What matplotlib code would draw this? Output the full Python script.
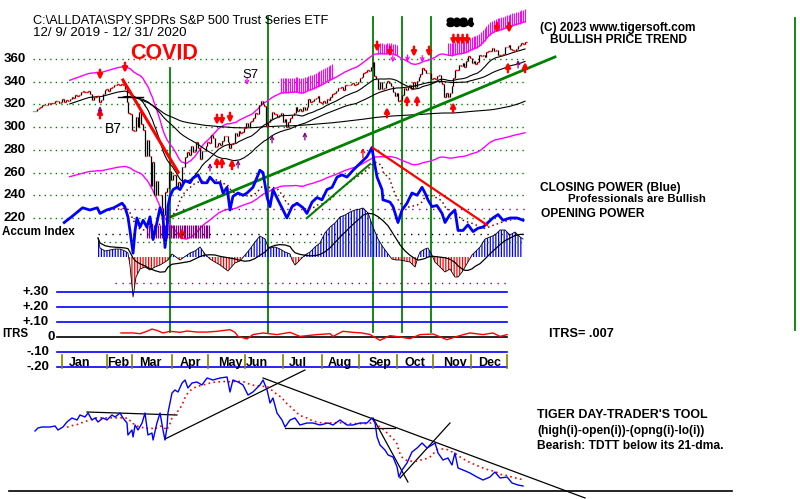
import numpy as np
import pandas as pd
import matplotlib
matplotlib.use("Agg")
import matplotlib.pyplot as plt
import matplotlib.patheffects as pe

plt.rcParams['font.family'] = ['Liberation Sans', 'DejaVu Sans']
plt.rcParams['hatch.linewidth'] = 0.9

# ---------------- DATA ----------------
# SPY daily closes 12/9/2019 .. 12/31/2020 (trading-day index 0..268)
closes = [
    313.9, 314.6, 316.2, 317.1, 317.3, 319.5, 319.6, 319.4, 320.9, 320.7, 321.2, 321.2, 322.9, 322.9, 321.1, 321.9,
    324.9, 322.4, 323.6, 322.7, 324.4, 326.6, 325.7, 327.9, 327.5, 328.2, 331.3, 332.0, 331.3, 331.3, 331.7, 328.8,
    323.5, 326.9, 326.6, 327.7, 321.7,
    324.1, 329.1, 332.9, 334.0, 332.2, 334.7, 335.3, 337.4, 337.1, 337.6, 336.7, 338.3, 337.0, 333.5, 322.4, 312.7,
    311.5, 297.5, 296.3,
    309.1, 300.2, 313.0, 302.5, 297.5, 274.2, 288.4, 274.4, 248.1, 269.3, 239.9, 252.8, 240.0, 240.5, 228.8, 223.0,
    243.2, 246.8, 261.2, 253.4, 257.8, 257.8,
    246.2, 251.8, 248.2, 264.9, 265.1, 274.0, 278.2, 275.7, 283.8, 277.8, 279.1, 286.6, 281.6, 272.0, 279.1, 279.1,
    283.0, 287.1, 285.7, 293.2, 290.5,
    282.8, 283.6, 286.2, 284.3, 287.7, 292.4, 292.5, 286.7, 281.6, 285.0, 286.3, 295.0, 292.0, 296.9, 294.9, 295.4,
    299.1, 303.5, 300.5, 304.3,
    305.6, 308.1, 312.2, 311.4, 319.3, 323.2, 320.8, 319.0, 300.6, 304.2, 307.1, 313.0, 311.7, 311.8, 308.6, 310.6,
    312.1, 304.1, 307.4, 300.1, 304.5, 308.4,
    310.5, 312.2, 317.6, 314.4, 316.2, 314.4, 317.6, 314.8, 317.7, 324.4, 321.7, 322.6, 325.0, 325.3, 327.0, 322.5,
    320.9, 323.2, 321.2, 325.1, 324.0, 326.5,
    328.8, 330.1, 332.1, 334.3, 334.6, 335.6, 332.8, 337.4, 336.8, 336.8, 337.9, 338.6, 337.2, 338.3, 339.5, 343.4,
    344.4, 347.6, 348.3, 350.6, 349.3,
    352.6, 357.7, 345.4, 342.6, 333.2, 339.8, 333.9, 334.1, 338.5, 340.2, 338.8, 335.8, 330.7, 327.0, 330.3, 322.6,
    323.5, 328.7, 334.2, 332.4, 334.9,
    337.0, 333.8, 339.8, 334.9, 340.8, 343.8, 346.9, 352.4, 350.1, 347.9, 347.5, 347.3, 342.0, 343.4, 342.7, 344.6,
    345.8, 339.4, 338.2, 326.7, 330.0, 326.5,
    330.2, 336.0, 343.5, 350.2, 350.2, 354.6, 354.0, 356.7, 353.2, 358.1, 362.6, 360.6, 356.3, 357.8, 355.3, 357.5,
    363.2, 362.7, 363.7, 362.1,
    366.0, 366.8, 366.7, 369.9, 366.9, 368.0, 363.2, 363.7, 363.3, 364.7, 370.2, 370.6, 372.2, 369.2, 367.9, 367.2,
    369.0, 371.5, 372.0, 373.9, 373.1, 375.3,
]

# Closing Power (blue), in price-panel units
cp_day = [17, 21, 27, 31, 35, 36.5, 40, 44, 48.5, 50, 51.7, 52.8, 54.5, 55.6, 56.6, 58.3, 60, 62, 63.7, 64.8, 65.4,
          67.5, 69.2, 70.8, 71.9, 73, 73.5, 74.6, 76.3, 78.4, 80.1, 82.8, 85.5, 87.1, 89.9, 92, 94.8, 96.4, 99.1,
          101.9, 103.5, 105.7, 107.3, 108.9, 111.7, 114.4, 116.6, 119.8, 123.6, 125.3, 127.5, 129.1, 130.7, 133.4,
          136.2, 138.3, 141.1, 143.8, 147.1, 149.2, 152, 154.7, 157.4, 160.1, 162.9, 165.6, 168.3, 171, 174.3, 178.1,
          181.9, 184.6, 185.7, 187.4, 190.1, 190.6, 194.4, 196.1, 198.8, 201, 203.7, 206.4, 209.2, 211.9, 213.5,
          215.1, 217.3, 220, 222.8, 224.4, 227.1, 229.8, 231.5, 234.2, 236.9, 239.7, 242.4, 245.1, 247.8, 250.5,
          253.3, 256, 259.8, 263.6, 266.9]
cp_val = [216, 221, 229, 227, 229, 224, 227, 229, 233, 230, 221, 209, 189, 209, 220, 212, 218, 212, 221, 209, 201,
          216, 229, 221, 194, 209, 230, 239, 245, 247, 245, 253, 251, 255, 258, 251, 251, 256, 251,
          251, 242, 247, 227, 239, 242, 240, 242, 247, 262, 260, 238, 230, 245, 236,
          227, 220, 230, 233, 229, 224, 234, 238, 236, 245, 247, 256, 258, 256, 262, 268,
          274, 282, 271, 256, 245, 236, 234, 230, 216, 227, 233, 242, 240, 247, 242,
          236, 230, 231, 224, 216, 223, 227, 209, 209, 214, 208, 211, 212, 216, 220,
          223, 218, 220, 220, 218]

# Accumulation Index (IP21-style)
acc_day = [35.4, 36.5, 39.2, 41.9, 44.7, 47.4, 50.1, 51.7, 52.8, 54.5, 56.1, 58.3, 61.0, 63.7, 66.4, 69.2, 71.9,
           73.5, 75.7, 80.1, 85.5, 88.2, 91.0, 93.7, 96.4, 99.1, 101.9, 106.2, 110.0, 112.7, 115.5, 118.2, 120.9,
           123.6, 126.4, 128.0, 129.1, 131.8, 134.5, 137.3, 140.0, 141.1, 142.7, 145.4, 148.1, 150.9, 153.6, 156.3,
           159.0, 161.8, 164.5, 167.2, 170.0, 172.7, 175.4, 178.1, 179.7, 182.5, 185.2, 187.9, 190.6, 193.4, 195.5,
           197.7, 199.9, 202.6, 205.3, 208.1, 209.7, 210.8, 213.5, 215.1, 217.3, 218.9, 221.7, 224.4, 227.1, 229.8,
           231.5, 233.7, 235.3, 236.9, 239.1, 240.8, 243.5, 246.2, 248.9, 251.6, 254.4, 257.1, 259.8, 262.5, 265.3,
           266.9]
acc_val = [0.19, 0.09, 0.06, 0.07, 0.08, 0.08, 0.06, 0.04, -0.08, -0.40, -0.20, -0.12, -0.10, -0.13, -0.10, -0.08,
           -0.05, -0.03, 0.03, -0.03, 0.04, 0.06, 0.10, 0.03, -0.02, -0.05, -0.08, -0.14, -0.06, -0.04, 0.02, 0.08,
           0.15, 0.21, 0.18, 0.10, 0.09, 0.10, 0.08, 0.05, 0.03, -0.03, -0.08, -0.03, 0.02, 0.05, 0.10, 0.14,
           0.24, 0.30, 0.34, 0.40, 0.42, 0.45, 0.47, 0.48, 0.49, 0.44, 0.30, 0.18, 0.10, 0.03, -0.02,
           -0.03, -0.03, -0.04, -0.05, -0.10, 0.0, 0.05, 0.08, 0.09, 0.02, -0.05, -0.10, -0.15, -0.12, -0.20,
           -0.20, -0.15, -0.10, -0.05, 0.02, 0.05, 0.10, 0.18, 0.20, 0.22, 0.27, 0.27, 0.22, 0.25, 0.20,
           0.18]

# ITRS
itrs_day = [47.9, 54.5, 58.3, 62.1, 64.8, 67.5, 70.8, 74.6, 80.1, 83.9, 89.3, 94.8, 100.2, 107.3, 110.0, 111.7,
            116.6, 119.8, 125.3, 132.9, 140.0, 145.4, 154.7, 161.8, 163.4, 168.8, 174.3, 179.2, 183.6, 189.0, 194.4,
            199.9, 205.3, 210.8, 217.9, 225.5, 230.9, 238.0, 245.1, 250.5, 254.4, 258.2]
itrs_val = [0.027, 0.027, 0.022, 0.038, 0.053, 0.044, 0.027, 0.038, 0.031, 0.040, 0.033, 0.033, 0.038, 0.049,
            0.031, 0.004, -0.013, 0.016, 0.027, 0.016, 0.031, 0.004, 0.016, 0.022, 0.004, 0.038, 0.031, 0.027,
            0.016, -0.022, 0.009, 0.0, -0.011, 0.016, 0.020, -0.018, 0.004, 0.027, 0.016, 0.027, 0.004, 0.016]

# Tiger Day-Trader's Tool
tdtt_day = [1.1, 2.7, 4.9, 9.3, 12.0, 13.6, 16.3, 18.5, 21.2, 24.0, 25.6, 28.3, 30.0, 32.1, 33.8, 35.4, 38.1, 40.3,
            43.0, 44.7, 47.4, 49.0, 51.2, 51.7, 53.9, 54.5, 55.6, 57.2, 59.4, 61.0, 62.6, 64.8, 65.4, 67.5, 69.2,
            70.8, 71.9, 73.0, 73.5, 74.6, 75.7, 77.3, 79.0, 81.2, 82.8, 84.4, 86.6, 89.3, 92.0, 94.8, 98.0, 101.9,
            105.7, 107.3, 108.9, 111.7, 114.4, 117.1, 119.8, 123.6, 125.3, 127.5, 129.1, 130.7, 132.9, 135.6, 137.3,
            140.0, 142.7, 145.4, 149.2, 152.5, 156.3, 160.7, 163.4, 167.2, 171.0, 174.3, 178.1, 181.9, 184.6, 186.3,
            187.4, 189.0, 191.7, 193.4, 196.1, 198.3, 199.3, 201.0, 203.7, 206.4, 209.2, 211.9, 214.6, 217.3, 219.0,
            220.6, 223.3, 226.0, 228.2, 229.8, 231.5, 234.2, 238.0, 241.8, 245.1, 248.9, 251.6, 254.4, 258.2, 260.9,
            264.2, 266.9]
tdtt_val = [0.60, 0.63, 0.64, 0.64, 0.65, 0.61, 0.64, 0.69, 0.73, 0.71, 0.76, 0.74, 0.78, 0.71, 0.73, 0.69, 0.73,
            0.71, 0.76, 0.74, 0.78, 0.73, 0.68, 0.56, 0.61, 0.54, 0.66, 0.61, 0.68, 0.78, 0.56, 0.58, 0.51, 0.68,
            0.78, 0.61, 0.51, 0.64, 0.78, 0.88, 0.98, 1.01, 0.99, 1.08, 1.11, 1.03, 1.08, 1.09, 1.06, 1.13, 1.11,
            1.13, 1.14, 0.99, 1.11, 1.09, 1.06, 0.96, 0.99, 1.06, 1.11, 1.01, 0.88, 0.93, 0.78, 0.71, 0.64, 0.71,
            0.73, 0.66, 0.68, 0.68, 0.66, 0.68, 0.66, 0.71, 0.66, 0.66, 0.68, 0.68, 0.73, 0.68, 0.54, 0.46, 0.41,
            0.36, 0.34, 0.24, 0.14, 0.21, 0.28, 0.39, 0.43, 0.48, 0.43, 0.46, 0.48, 0.38, 0.31, 0.33, 0.26, 0.38,
            0.23, 0.21, 0.18, 0.14, 0.11, 0.14, 0.19, 0.13, 0.14, 0.08, 0.06, 0.05]

price_ticks = [360, 340, 320, 300, 280, 260, 240, 220]
itrs_ticks = [0.30, 0.20, 0.10, 0.0, -0.10, -0.20]
itrs_tick_labels = ['+.30', '+.20', '+.10', '0', '-.10', '-.20']
months = ['Jan', 'Feb', 'Mar', 'Apr', 'May', 'Jun', 'Jul', 'Aug', 'Sep', 'Oct', 'Nov', 'Dec']
month_label_day = [25.6, 46.3, 63.7, 85.5, 107.3, 122.0, 144.3, 167.2, 189.0, 208.1, 229.8, 248.9]
month_sep_day = [15.8, 40.3, 53.9, 75.7, 95.3, 115.5, 136.2, 157.4, 177.6, 198.3, 217.9, 238.6, 258.2]
signal_days = [74.6, 128.0, 185.2, 201.0, 216.8]

# trend lines (day, value) pairs
price_red_trend = [(49.0, 341.5), (79.0, 260.5)]
long_green_trend = [(73.5, 220.0), (284.3, 361.8)]
cp_green_trend = [(149.2, 220.0), (183.6, 267.5)]
cp_red_trend = [(185.2, 281.6), (247.3, 213.8)]
tdtt_lines = [[(29.4, 0.79), (78.4, 0.76)], [(71.9, 0.52), (148.1, 1.21)], [(125.3, 1.13), (300.7, -0.07)],
              [(137.3, 0.63), (197.2, 0.63)], [(185.2, 0.73), (204.2, 0.09)], [(199.9, 0.13), (227.1, 0.68)]]

# signal arrows (day, tip value)
down_red = [(36.5, 341.5), (50.1, 347.7), (100.2, 301.9), (102.9, 301.9), (107.3, 303.6), (187.4, 366.2),
            (194.4, 361.8), (207.5, 361.8), (215.7, 361.8), (252.7, 382.9), (259.3, 382.9),
            (229.0, 372.3), (231.5, 372.3), (234.0, 372.3), (236.5, 372.3)]
up_red = [(36.5, 316.8), (100.2, 273.7), (102.9, 273.7), (108.4, 272.0), (81.1, 211.2), (192.8, 317.7),
          (203.7, 328.3), (209.2, 328.3), (228.8, 322.1), (258.7, 357.4), (268.0, 357.4)]
up_purple = [(130.2, 293.1), (148.1, 295.7), (96.4, 268.4), (111.7, 271.0), (264.2, 359.1), (36.5, 318.5)]
down_magenta = [(116.6, 337.1), (196.0, 357.0), (204.0, 357.5), (212.0, 357.0)]
magenta_clusters = [(135, 163, 13.0), (188, 198, 9.0), (226, 268, 11.0)]

# ---------------- FIGURE ----------------
W, H = 800, 499
X0PX, PXD = 33.0, 1.836
XL = (-X0PX / PXD, (W - X0PX) / PXD)
fig = plt.figure(figsize=(W / 100, H / 100), dpi=100)
fig.patch.set_facecolor('white')


def full_axes(top_val, per_px):
    ax = fig.add_axes([0, 0, 1, 1])
    ax.set_xlim(*XL)
    ax.set_ylim(top_val - per_px * H, top_val)
    ax.set_axis_off()
    return ax


def dx(px):
    return (px - X0PX) / PXD


ax_p = full_axes(411.95, 0.8806)     # price panel units
ax_a = full_axes(2.57, 0.01)         # accumulation index
ax_i = full_axes(337 / 150, 1 / 150)  # ITRS
ax_t = full_axes(4.91, 0.01)         # TDTT

GREEN, BLUE, RED, MAG, PURP, BROWN, OLIVE = '#008000', '#0000ff', '#ff0000', '#ff00ff', '#800080', '#800000', '#808000'

days = np.arange(len(closes))
cl = pd.Series(closes, dtype=float)
ma21 = cl.rolling(21).mean()
ma50 = cl.rolling(50).mean()
ma200 = cl.rolling(200, min_periods=60).mean()
upper = ma21 * 1.065
lower = ma21 * 0.80

# grid lines
for v in price_ticks:
    ax_p.plot([0, 268], [v, v], color=GREEN, lw=1, ls=(0, (1, 3)))
# accum reference lines
ax_a.plot([dx(120), dx(525)], [0.48, 0.48], color=PURP, lw=1, ls=(0, (1, 4)))
ax_a.plot([dx(98), dx(525)], [0.23, 0.23], color='black', lw=1, ls=(0, (1, 4)))
ax_a.plot([dx(98), dx(525)], [0.15, 0.15], color=GREEN, lw=1, ls=(0, (1, 3)))
ax_a.plot([dx(115), dx(508)], [-0.26, -0.26], color=PURP, lw=1, ls=(0, (1, 4)))

# vertical signal lines
for i, d in enumerate(signal_days):
    ax_p.plot([d, d], [352.1 if i == 0 else 397.0, 119.6], color=GREEN, lw=1.3)
ax_p.plot([dx(795), dx(795)], [396.1, 121.3], color=GREEN, lw=1.3)

# bands and MAs
ax_p.plot(days, upper, color=MAG, lw=1)
ax_p.plot(days, lower, color=MAG, lw=1)
for m in (ma21, ma50, ma200):
    ax_p.plot(days, m, color='black', lw=0.8)

# magenta signal clusters above upper band
n = len(closes)
for d0, d1, h in magenta_clusters:
    dd = np.arange(d0, min(d1, n - 1) + 1, 1)
    ub = upper.to_numpy()[dd]
    ax_p.vlines(dd, ub, ub + h, color=MAG, lw=0.8)

# price bars
cla = np.array(closes)
ax_p.vlines(days[1:], np.minimum(cla[:-1], cla[1:]), np.maximum(cla[:-1], cla[1:]), color='black', lw=0.9)
ax_p.hlines(cla, days, days + 0.8, color=RED, lw=1.0)

# trend lines
(x0, y0), (x1, y1) = price_red_trend
ax_p.plot([x0, x1], [y0, y1], color=RED, lw=2.2)
(x0, y0), (x1, y1) = long_green_trend
ax_p.plot([x0, x1], [y0, y1], color=GREEN, lw=2.0)

# purple crash hatch
dd = np.arange(62, 97, 1)
ax_p.vlines(dd, 202, 214, color=PURP, lw=0.9)

# closing power
cps = pd.Series(cp_val, dtype=float)
ax_p.plot(cp_day, cps.rolling(6).mean(), color=BROWN, lw=1.1, ls=(0, (1, 2)))
ax_p.plot(cp_day, cp_val, color=BLUE, lw=2.0)
(x0, y0), (x1, y1) = cp_green_trend
ax_p.plot([x0, x1], [y0, y1], color=GREEN, lw=1.5)
(x0, y0), (x1, y1) = cp_red_trend
ax_p.plot([x0, x1], [y0, y1], color=RED, lw=1.6)

# arrows
def arrow(ax, d, tip, tail, color, lw=1.8, ms=7):
    ax.annotate('', xy=(d, tip), xytext=(d, tail),
                arrowprops=dict(arrowstyle='-|>', color=color, lw=lw, shrinkA=0, shrinkB=0, mutation_scale=ms))

for d, t in down_red:
    arrow(ax_p, d, t, t + 9, RED)
for d, t in up_red:
    arrow(ax_p, d, t, t - 9, RED)
for d, t in up_purple:
    ax_p.annotate('', xy=(d, t), xytext=(d, t - 7),
                  arrowprops=dict(arrowstyle='->', color=PURP, lw=0.9, shrinkA=0, shrinkB=0, mutation_scale=6))
ax_p.annotate('', xy=(179.7, 281.6), xytext=(179.7, 273.0),
              arrowprops=dict(arrowstyle='->', color=RED, lw=0.9, shrinkA=0, shrinkB=0, mutation_scale=6))
for d, t in down_magenta:
    ax_p.annotate('', xy=(d, t), xytext=(d, t + 6),
                  arrowprops=dict(arrowstyle='->', color=MAG, lw=0.9, shrinkA=0, shrinkB=0, mutation_scale=6))
ax_p.plot([46.3, 59.9], [326.5, 326.5], color='black', lw=1)

# accumulation index histogram
ad = np.array(acc_day)
av = np.array(acc_val)
ax_a.fill_between(ad, 0, av, where=av >= 0, interpolate=True, facecolor='none', edgecolor=BLUE,
                  hatch='||||||', linewidth=0)
ax_a.fill_between(ad, 0, av, where=av <= 0, interpolate=True, facecolor='none', edgecolor=RED,
                  hatch='||||||', linewidth=0)
ax_a.plot(ad, av, color='black', lw=0.6)
ax_a.plot(ad, pd.Series(av).rolling(8, min_periods=1).mean(), color='black', lw=0.9)

# ITRS panel
for v in itrs_ticks:
    ax_i.plot([dx(57), dx(507)], [v, v], color='black' if v == 0 else BLUE, lw=1.2)
ax_i.plot(itrs_day, itrs_val, color=RED, lw=1)
for d in month_sep_day:
    ax_i.plot([d, d], [-0.12, -0.207], color=OLIVE, lw=1.2)

# TDTT panel
td = pd.Series(tdtt_val, dtype=float)
ax_t.plot([dx(9), dx(732)], [0, 0], color='black', lw=1.2)
for (x0, y0), (x1, y1) in tdtt_lines:
    ax_t.plot([x0, x1], [y0, y1], color='black', lw=0.9)
ax_t.plot(tdtt_day, td.rolling(8).mean(), color=RED, lw=1.2, ls=(0, (1, 2)))
ax_t.plot(tdtt_day, tdtt_val, color=BLUE, lw=1.0)

# ---------------- TEXT ----------------
renderer = fig.canvas.get_renderer()


def ftxt(x0, x1, yc, s, color='black', weight='bold', maxsize=None, **kw):
    t = fig.text(x0 / W, 1 - yc / H, s, va='center', ha='left', fontsize=10, color=color,
                 fontweight=weight, **kw)
    w = t.get_window_extent(renderer).width
    size = 10 * (x1 - x0) / w
    if maxsize is not None:
        size = min(size, maxsize)
    t.set_fontsize(size)
    return t


ftxt(33, 330, 20.5, r"C:\ALLDATA\SPY.SPDRs S&P 500 Trust Series ETF", weight='normal', maxsize=9.6)
ftxt(33, 190, 33.5, "12/ 9/ 2019 - 12/ 31/ 2020", weight='normal', maxsize=9.6)
ftxt(130, 198, 53.5, "COVID", color=RED)
ftxt(105, 122, 129, "B7", weight='normal')
ftxt(242, 258, 75, "S7", weight='normal')
ftxt(447, 473, 23, "S9S4", weight='bold',
     path_effects=[pe.withStroke(linewidth=1.6, foreground='black')])
ftxt(540, 696, 28, "(C) 2023 www.tigersoft.com")
ftxt(550, 688, 40, "BULLISH PRICE TREND")
ftxt(540, 681, 188, "CLOSING POWER (Blue)")
ftxt(568, 705, 199, "Professionals are Bullish")
ftxt(541, 645, 214, "OPENING POWER")
ftxt(2, 74, 232, "Accum Index")
ftxt(549, 614, 334, "ITRS= .007")
ftxt(537, 707, 415, "TIGER DAY-TRADER'S TOOL")
ftxt(537, 702, 431, "(high(i)-open(i))-(opng(i)-lo(i))")
ftxt(537, 723, 446, "Bearish: TDTT below its 21-dma.")
ftxt(2, 28, 334, "ITRS")

for v in price_ticks:
    ax_p.text(dx(26), v, str(v), ha='right', va='center', fontsize=9.5, fontweight='bold')
for v, lab in zip(itrs_ticks, itrs_tick_labels):
    ax_i.text(dx(55) if lab == '0' else dx(49), v, lab, ha='right', va='center', fontsize=9.5, fontweight='bold')
for d, m in zip(month_label_day, months):
    ax_i.text(d, -0.173, m, ha='center', va='center', fontsize=9, fontweight='bold')

fig.savefig('out.png', dpi=100)
